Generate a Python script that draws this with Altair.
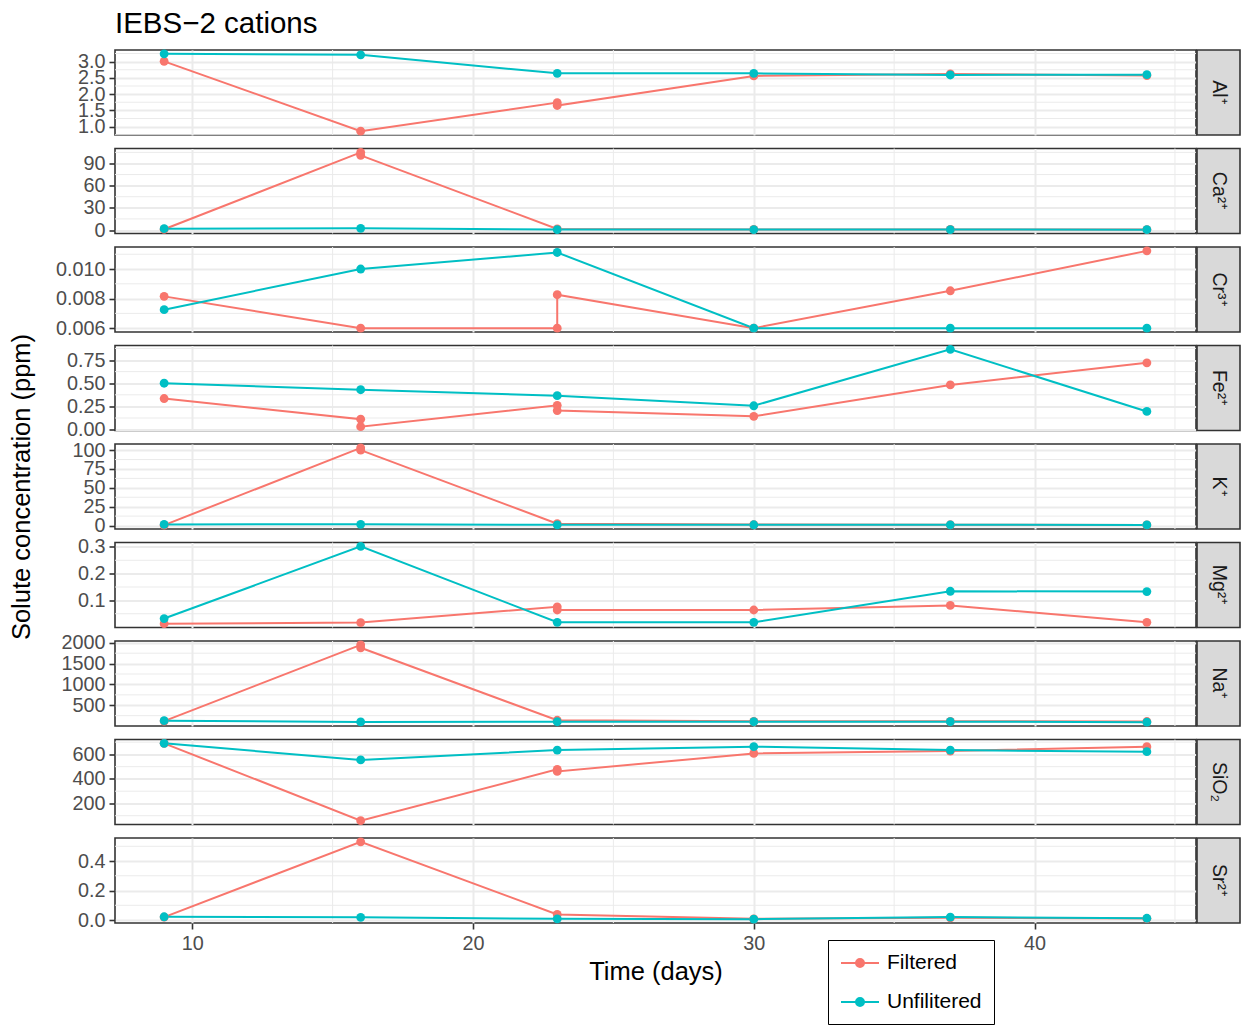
import altair as alt
import pandas as pd

FONT = "Liberation Sans"
W, H = 1081, 85

DAYS = [9, 16, 23, 30, 37, 44]
X_TICKS = [10, 20, 30, 40]
X_MINOR = [15, 25, 35, 45]
SERIES = ["Filtered", "Unfilitered"]
COLORS = ["#F8766D", "#00BFC4"]
Y_TITLE = "Solute concentration (ppm)"

# Filtered series (some sampling days were measured twice)
AL_F_DAYS = [9, 16, 23, 23, 30, 37, 44]
AL_F = [3.01, 0.86, 1.74, 1.65, 2.56, 2.62, 2.57]
AL_U = [3.24, 3.21, 2.64, 2.64, 2.59, 2.60]
AL_TICKS = [1.0, 1.5, 2.0, 2.5, 3.0]

CA_F_DAYS = [9, 16, 16, 23, 30, 37, 44]
CA_F = [1.0, 105.0, 101.0, 1.5, 0.8, 0.7, 0.6]
CA_U = [1.8, 2.3, 0.6, 0.6, 0.6, 0.5]
CA_TICKS = [0, 30, 60, 90]

CR_F_DAYS = [9, 16, 23, 23, 30, 37, 44]
CR_F = [0.00815, 0.0060, 0.0060, 0.00826, 0.0060, 0.00853, 0.01123]
CR_U = [0.00725, 0.0100, 0.01112, 0.0060, 0.0060, 0.0060]
CR_TICKS = [0.006, 0.008, 0.010]

FE_F_DAYS = [9, 16, 16, 23, 23, 30, 37, 44]
FE_F = [0.335, 0.112, 0.032, 0.262, 0.205, 0.143, 0.482, 0.720]
FE_U = [0.500, 0.430, 0.366, 0.257, 0.865, 0.196]
FE_TICKS = [0.0, 0.25, 0.5, 0.75]

K_F_DAYS = [9, 16, 16, 23, 30, 37, 44]
K_F = [0.5, 103.0, 100.0, 2.5, 1.2, 1.0, 0.8]
K_U = [1.5, 1.6, 0.9, 1.0, 0.9, 0.8]
K_TICKS = [0, 25, 50, 75, 100]

MG_F_DAYS = [9, 16, 23, 23, 30, 37, 44]
MG_F = [0.013, 0.017, 0.076, 0.064, 0.064, 0.081, 0.018]
MG_U = [0.032, 0.302, 0.018, 0.018, 0.134, 0.133]
MG_TICKS = [0.1, 0.2, 0.3]

NA_F_DAYS = [9, 16, 16, 23, 30, 37, 44]
NA_F = [120, 1950, 1880, 140, 115, 115, 110]
NA_U = [130, 100, 105, 105, 105, 95]
NA_TICKS = [500, 1000, 1500, 2000]

SI_F_DAYS = [9, 16, 23, 23, 30, 37, 44]
SI_F = [690, 60, 478, 461, 608, 627, 663]
SI_U = [690, 555, 635, 663, 635, 622]
SI_TICKS = [200, 400, 600]

SR_F_DAYS = [9, 16, 23, 30, 37, 44]
SR_F = [0.020, 0.530, 0.038, 0.008, 0.015, 0.010]
SR_U = [0.022, 0.018, 0.008, 0.006, 0.020, 0.012]
SR_TICKS = [0.0, 0.2, 0.4]

PANELS = [
    ("Al⁺", AL_F_DAYS, AL_F, AL_U, AL_TICKS, ".1f"),
    ("Ca²⁺", CA_F_DAYS, CA_F, CA_U, CA_TICKS, "d"),
    ("Cr³⁺", CR_F_DAYS, CR_F, CR_U, CR_TICKS, ".3f"),
    ("Fe²⁺", FE_F_DAYS, FE_F, FE_U, FE_TICKS, ".2f"),
    ("K⁺", K_F_DAYS, K_F, K_U, K_TICKS, "d"),
    ("Mg²⁺", MG_F_DAYS, MG_F, MG_U, MG_TICKS, ".1f"),
    ("Na⁺", NA_F_DAYS, NA_F, NA_U, NA_TICKS, "d"),
    ("SiO₂", SI_F_DAYS, SI_F, SI_U, SI_TICKS, "d"),
    ("Sr²⁺", SR_F_DAYS, SR_F, SR_U, SR_TICKS, ".1f"),
]

rows = []
for name, fdays, fvals, uvals, _t, _f in PANELS:
    for k, (d, v) in enumerate(zip(fdays, fvals)):
        rows.append({"element": name, "series": SERIES[0], "day": d, "value": v, "order": k})
    for k, (d, v) in enumerate(zip(DAYS, uvals)):
        rows.append({"element": name, "series": SERIES[1], "day": d, "value": v, "order": k})
df = pd.DataFrame(rows)

x_lo, x_hi = min(DAYS), max(DAYS)
x_pad = 0.05 * (x_hi - x_lo)
xscale = alt.Scale(domain=[x_lo - x_pad, x_hi + x_pad], nice=False, zero=False)
color_scale = alt.Scale(domain=SERIES, range=COLORS)

LEGEND_PATH = (
    "M-1,0H2.8"
    "M0.5,0A0.4,0.4 0 1,0 1.3,0A0.4,0.4 0 1,0 0.5,0"
    "M0.65,0A0.25,0.25 0 1,0 1.15,0A0.25,0.25 0 1,0 0.65,0"
    "M0.8,0A0.1,0.1 0 1,0 1.0,0A0.1,0.1 0 1,0 0.8,0"
)

legend = alt.Legend(
    title=None, orient="none", legendX=713, legendY=890,
    strokeColor="#000000", fillColor="#FFFFFF", padding=12,
    symbolType=LEGEND_PATH, symbolSize=400, symbolStrokeWidth=2,
    labelOffset=25, labelFont=FONT, labelFontSize=21, labelColor="#000000",
    rowPadding=18,
)


def make_panel(i, name, ticks, fmt):
    sub = df[df.element == name]
    lo, hi = sub.value.min(), sub.value.max()
    pad = 0.05 * (hi - lo)
    dom = [lo - pad, hi + pad]
    step = ticks[1] - ticks[0]
    minor = [t - step / 2 for t in ticks] + [ticks[-1] + step / 2]
    minor = [m for m in minor if dom[0] <= m <= dom[1]]
    last = i == len(PANELS) - 1

    yscale = alt.Scale(domain=dom, nice=False, zero=False)
    y_axis = alt.Axis(
        values=ticks, format=fmt, title=Y_TITLE if i == 4 else None,
        labelOverlap=False, labelFlush=False, grid=True,
        minExtent=60, maxExtent=60, titlePadding=21,
    )
    if last:
        x_axis = alt.Axis(values=X_TICKS, format="d", title="Time (days)",
                          labelOverlap=False, labelFlush=False, grid=True, titlePadding=7)
    else:
        x_axis = alt.Axis(values=X_TICKS, title=None, labels=False, ticks=False, grid=True)

    xenc = alt.X("day:Q", scale=xscale, axis=x_axis)
    yenc = alt.Y("value:Q", scale=yscale, axis=y_axis)

    hminor = alt.Chart(pd.DataFrame({"value": minor})).mark_rule(
        color="#EBEBEB", strokeWidth=1).encode(y=yenc)
    vminor = alt.Chart(pd.DataFrame({"day": X_MINOR})).mark_rule(
        color="#EBEBEB", strokeWidth=1).encode(x=xenc)
    base = alt.Chart(sub)
    lines = base.mark_line(strokeWidth=2).encode(
        x=xenc, y=yenc,
        color=alt.Color("series:N", scale=color_scale, legend=legend),
        order=alt.Order("order:Q"),
    )
    points = base.mark_point(filled=True, size=78, opacity=1).encode(
        x=xenc, y=yenc,
        color=alt.Color("series:N", scale=color_scale, legend=None),
    )
    lab = pd.DataFrame({"label": [name]})
    strip = alt.Chart(lab).mark_rect(fill="#D9D9D9", stroke="#333333", strokeWidth=1.6).encode(
        x=alt.value(W + 1), x2=alt.value(W + 44), y=alt.value(0), y2=alt.value(H))
    strip_text = alt.Chart(lab).mark_text(
        angle=90, fontSize=19.5, color="#1A1A1A", font=FONT, align="center", baseline="middle"
    ).encode(x=alt.value(W + 22.5), y=alt.value(H / 2), text="label:N")
    return alt.layer(hminor, vminor, lines, points, strip, strip_text).properties(width=W, height=H)


panels = [make_panel(i, p[0], p[4], p[5]) for i, p in enumerate(PANELS)]

chart = alt.vconcat(*panels, spacing=13.5, bounds="flush").properties(
    title=alt.TitleParams("IEBS−2 cations", anchor="start", frame="group", fontSize=29.5,
                          font=FONT, fontWeight="normal", color="#000000", offset=9),
    padding={"left": 8, "top": 8, "right": 0, "bottom": 0},
).configure(font=FONT).configure_view(
    stroke="#333333", strokeWidth=1.6
).configure_axis(
    labelFont=FONT, labelFontSize=19.8, labelColor="#4D4D4D",
    tickColor="#333333", tickWidth=1.6, tickSize=6, labelPadding=4,
    domain=False, gridColor="#EBEBEB", gridWidth=2,
    titleFont=FONT, titleFontSize=25.5, titleFontWeight="normal", titleColor="#000000",
)

chart.save("out.html", embed_options={"renderer": "svg", "actions": False})
